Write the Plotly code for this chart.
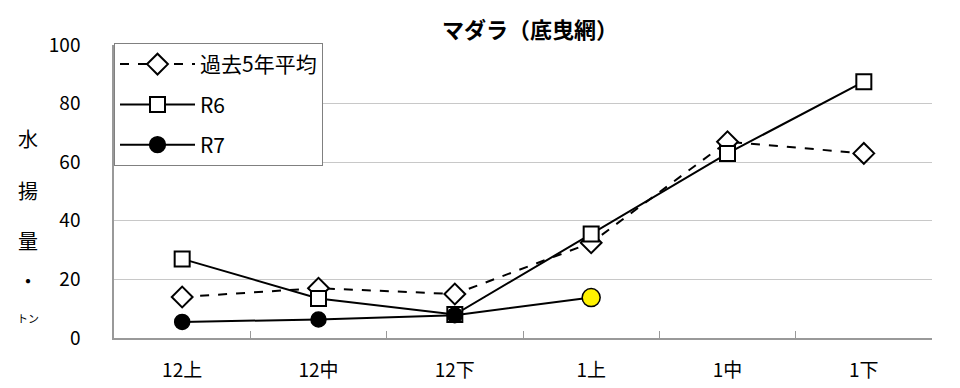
import plotly.graph_objects as go

categories = ["12上", "12中", "12下", "1上", "1中", "1下"]
avg5 = [14, 17, 15, 32.5, 67, 63]
r6 = [27, 13.5, 8, 35.5, 63, 87.5]
r7 = [5.5, 6.3, 7.8, 13.8]
r7_colors = ["black", "black", "black", "#FFF200"]

FONT = "Noto Sans CJK JP"

fig = go.Figure()
fig.add_trace(go.Scatter(
    x=categories, y=avg5, name="過去5年平均", mode="lines+markers",
    line=dict(color="black", width=2, dash="dash"),
    marker=dict(symbol="diamond", size=16, color="white", line=dict(color="black", width=2)),
    legendgroup="a",
))
fig.add_trace(go.Scatter(
    x=categories, y=r6, name="R6", mode="lines+markers",
    line=dict(color="black", width=2),
    marker=dict(symbol="square", size=15, color="white", line=dict(color="black", width=2)),
    legendgroup="b",
))
fig.add_trace(go.Scatter(
    x=categories[:len(r7)], y=r7, name="R7", mode="lines+markers",
    line=dict(color="black", width=2),
    marker=dict(symbol="circle", size=[15, 15, 15, 18], color=r7_colors, opacity=1,
                line=dict(color="black", width=1.5)),
    legendgroup="c",
))

ylabel_chars = [("水", 138, 20), ("揚", 190, 20), ("量", 240, 20), ("・", 280, 20), ("トン", 318, 11)]
for ch, ypx, sz in ylabel_chars:
    fig.add_annotation(
        text=ch, xref="paper", yref="paper", x=(28 - 114) / 818, y=(338 - ypx) / 293,
        xanchor="center", yanchor="middle", showarrow=False,
        font=dict(family=FONT, size=sz, color="black"),
    )

fig.update_layout(
    width=960, height=388,
    margin=dict(l=114, r=28, t=45, b=50, autoexpand=False),
    paper_bgcolor="white", plot_bgcolor="white",
    font=dict(family=FONT, size=19, color="black"),
    title=dict(text="<b>マダラ（底曳網）</b>", x=530 / 960, xanchor="center",
               y=1 - 30 / 388, yanchor="middle", font=dict(family=FONT, size=22, color="black")),
    showlegend=True,
    legend=dict(
        x=0, y=1.007, xanchor="left", yanchor="top",
        bgcolor="white", bordercolor="#808080", borderwidth=1,
        font=dict(family=FONT, size=21, color="black"),
        tracegroupgap=10, traceorder="grouped",
        itemwidth=75,
    ),
    xaxis=dict(
        type="category", range=[-0.5, 5.5], autorange=False,
        showgrid=False, showline=True, linecolor="#999999", linewidth=1.5,
        ticks="inside", tickson="boundaries", ticklen=7, tickcolor="#999999",
        tickfont=dict(family=FONT, size=19, color="black"), ticklabelstandoff=14,
        mirror=False, zeroline=False, automargin=False,
    ),
    yaxis=dict(
        range=[0, 100], autorange=False, dtick=20, showgrid=True, gridcolor="#C8C8C8", gridwidth=1,
        showline=True, linecolor="#999999", linewidth=1.5, zeroline=False, automargin=False,
        ticks="", tickfont=dict(family=FONT, size=19, color="black"), ticklabelstandoff=28,
    ),
)

fig.write_html("out.html")
